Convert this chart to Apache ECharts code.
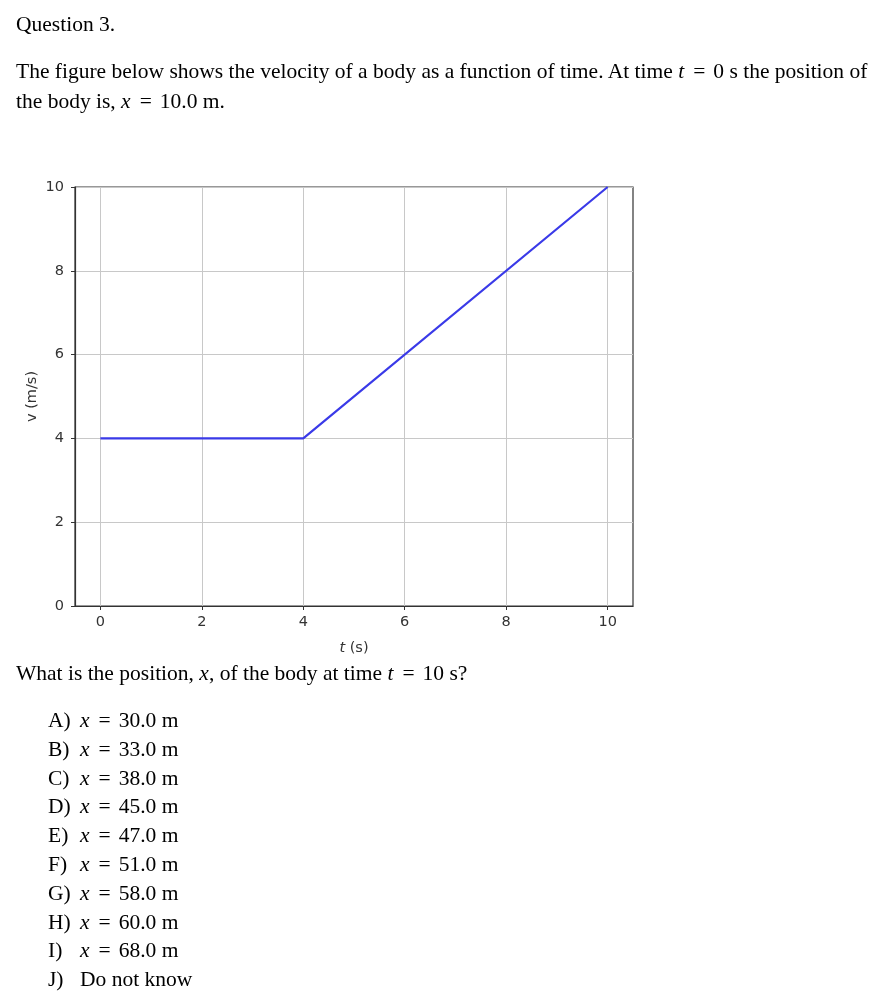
<!DOCTYPE html>
<html>
<head>
<meta charset="utf-8">
<script src="https://cdn.jsdelivr.net/npm/echarts@6/dist/echarts.min.js"></script>
<style>
  html, body { margin: 0; padding: 0; background: #fff; }
  #page { position: relative; width: 879px; height: 991px; overflow: hidden; }
  #chart { position: absolute; left: 0; top: 0; width: 879px; height: 991px; }
  .t, .opt { position: absolute; font-family: "Liberation Serif", "Times New Roman", serif; font-size: 21.5px; color: #000; white-space: nowrap; line-height: 24px; z-index: 2; }
  .m { font-style: italic; }
  .eq { display: inline-block; margin: 0 8px 0 9px; }
  .lbl { display: inline-block; width: 32px; }
</style>
</head>
<body>
<div id="page">
  <div id="chart"></div>
  <div class="t" style="left:16px; top:12px;">Question 3.</div>
  <div class="t" style="left:16px; top:59px;">The figure below shows the velocity of a body as a function of time. At time <span class="m">t</span><span class="eq">=</span>0 s the position of</div>
  <div class="t" style="left:16px; top:89px;">the body is, <span class="m">x</span><span class="eq">=</span>10.0 m.</div>
  <div class="t" style="left:16px; top:661px;">What is the position, <span class="m">x</span>, of the body at time <span class="m">t</span><span class="eq">=</span>10 s?</div>
  <div id="opts"></div>
</div>
<script>
// Data
const times = [0, 4, 10];
const velocities = [4, 4, 10];
const xTicks = [0, 2, 4, 6, 8, 10];
const optionLetters = ['A)', 'B)', 'C)', 'D)', 'E)', 'F)', 'G)', 'H)', 'I)', 'J)'];
const optionTexts = ['30.0 m', '33.0 m', '38.0 m', '45.0 m', '47.0 m', '51.0 m', '58.0 m', '60.0 m', '68.0 m', 'Do not know'];

// Answer options
const optsDiv = document.getElementById('opts');
optionLetters.forEach((l, i) => {
  const d = document.createElement('div');
  d.className = 'opt';
  d.style.left = '48px';
  d.style.top = (708 + i * 28.8) + 'px';
  const txt = optionTexts[i];
  const body = (txt === 'Do not know') ? txt : '<span class="m">x</span><span class="eq">=</span>' + txt;
  d.innerHTML = '<span class="lbl">' + l + '</span>' + body;
  optsDiv.appendChild(d);
});

const chart = echarts.init(document.getElementById('chart'), null, { renderer: 'canvas' });
const FS = 14.5;
const labelStyle = { fontFamily: 'DejaVu Sans', fontSize: FS, color: '#333' };
chart.setOption({
  animation: false,
  grid: {
    left: 75, top: 187, width: 558, height: 419,
    show: true, borderColor: '#333', borderWidth: 1.2, backgroundColor: 'transparent'
  },
  xAxis: {
    type: 'value', min: -0.5, max: 10.5,
    name: '{i|t} (s)', nameLocation: 'middle', nameGap: 35,
    nameTextStyle: {
      fontFamily: 'DejaVu Sans', fontSize: FS, color: '#333',
      rich: { i: { fontFamily: 'DejaVu Sans', fontStyle: 'italic', fontSize: FS, color: '#333' } }
    },
    axisLine: { show: true, onZero: false, lineStyle: { color: '#333', width: 1.2 } },
    axisTick: { show: true, length: 4, customValues: xTicks, lineStyle: { color: '#333' } },
    axisLabel: Object.assign({ customValues: xTicks, margin: 9 }, labelStyle),
    splitLine: { show: true, lineStyle: { color: '#c8c8c8', width: 1 } }
  },
  yAxis: {
    type: 'value', min: 0, max: 10, interval: 2,
    name: 'v (m/s)', nameLocation: 'middle', nameGap: 35, nameMoveOverlap: false,
    nameTextStyle: { fontFamily: 'DejaVu Sans', fontSize: FS, color: '#333' },
    axisLine: { show: true, onZero: false, lineStyle: { color: '#333', width: 1.2 } },
    axisTick: { show: true, length: 4, lineStyle: { color: '#333' } },
    axisLabel: Object.assign({ margin: 11 }, labelStyle),
    splitLine: { show: true, lineStyle: { color: '#c8c8c8', width: 1 } }
  },
  series: [{
    type: 'line',
    data: times.map((t, i) => [t, velocities[i]]),
    showSymbol: false,
    symbol: 'none',
    lineStyle: { color: '#3a3ae8', width: 2.2 },
    z: 5
  }]
});
</script>
</body>
</html>
